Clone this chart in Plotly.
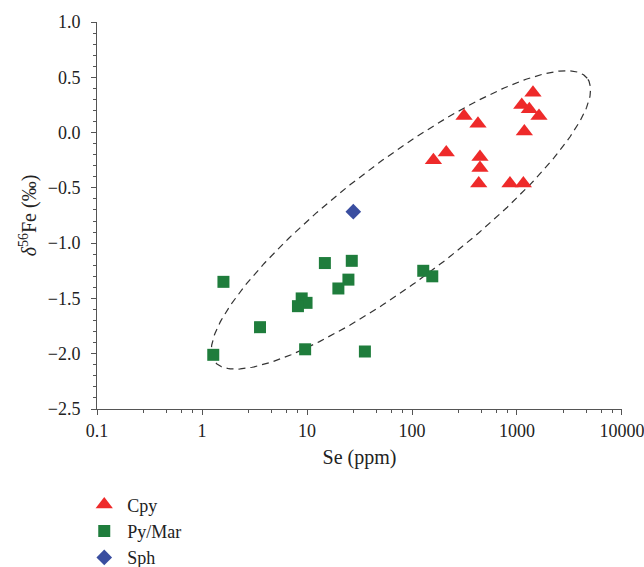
import numpy as np
import plotly.graph_objects as go

# --- data ---
cpy_se = [1420, 1110, 1310, 1620, 1175, 313, 425, 212, 160, 444, 444, 432, 857, 1150]
cpy_fe = [0.36, 0.25, 0.21, 0.15, 0.01, 0.15, 0.08, -0.18, -0.25, -0.22, -0.32, -0.46, -0.46, -0.46]

pym_se = [1.60, 14.8, 26.7, 24.8, 19.9, 8.9, 9.9, 8.2, 3.57, 1.28, 9.6, 35.6, 128, 156]
pym_fe = [-1.35, -1.18, -1.16, -1.33, -1.41, -1.50, -1.54, -1.57, -1.76, -2.01, -1.96, -1.98, -1.25, -1.30]

sph_se = [27.6]
sph_fe = [-0.715]

x_tickvals = [0.1, 1, 10, 100, 1000, 10000]
x_ticktext = ["0.1", "1", "10", "100", "1000", "10000"]
x_minor = [d * m for d in [0.1, 1, 10, 100, 1000] for m in [2.8, 4.6, 6.4, 8.2]]

# ellipse parameters (center in log10(Se) / delta units, semi-axes in screen px, tilt in degrees)
ell_center_logx = 1.895
ell_center_y = -0.79
ell_a_px = 234.0
ell_b_px = 59.0
ell_tilt_deg = 37.25

W, H = 644, 567
ML, MR, MT, MB = 97, 22, 22, 158
xr_log = [-1.0001, 4.0001]
yr = [-2.5, 1.0]

px_per_dec = (W - ML - MR) / (xr_log[1] - xr_log[0])
px_per_unit = (H - MT - MB) / (yr[1] - yr[0])

t = np.linspace(0, 2 * np.pi, 400)
th = np.radians(ell_tilt_deg)
u = ell_a_px * np.cos(t) * np.cos(th) - ell_b_px * np.sin(t) * np.sin(th)
v = ell_a_px * np.cos(t) * np.sin(th) + ell_b_px * np.sin(t) * np.cos(th)
ell_x = 10 ** (ell_center_logx + u / px_per_dec)
ell_y = ell_center_y + v / px_per_unit

fig = go.Figure()
fig.add_trace(go.Scatter(x=ell_x, y=ell_y, mode="lines", showlegend=False, hoverinfo="skip",
                         line=dict(color="#333333", width=1.2, dash="7px,5px")))
fig.add_trace(go.Scatter(x=cpy_se, y=cpy_fe, mode="markers", name="Cpy",
                         marker=dict(symbol="triangle-up", size=15, color="#EE2A2A")))
fig.add_trace(go.Scatter(x=pym_se, y=pym_fe, mode="markers", name="Py/Mar",
                         marker=dict(symbol="square", size=12, color="#1F7D3C")))
fig.add_trace(go.Scatter(x=sph_se, y=sph_fe, mode="markers", name="Sph",
                         marker=dict(symbol="diamond", size=12, color="#3A4EA0")))

font_family = "Liberation Serif, Times New Roman, serif"
fig.update_layout(
    width=W, height=H,
    margin=dict(l=ML, r=MR, t=MT, b=MB, autoexpand=False),
    paper_bgcolor="white", plot_bgcolor="white",
    font=dict(family=font_family, size=18, color="#222222"),
    legend=dict(x=-0.030, y=-0.200, xanchor="left", yanchor="top", itemwidth=36,
                font=dict(size=18), bgcolor="rgba(0,0,0,0)"),
    xaxis=dict(type="log", range=xr_log, showgrid=False, zeroline=False,
               showline=True, linecolor="#555555", linewidth=1,
               ticks="outside", ticklen=5, tickcolor="#555555",
               tickvals=x_tickvals, ticktext=x_ticktext, ticklabeloverflow="allow",
               minor=dict(tickvals=x_minor, ticks="outside", ticklen=3, tickcolor="#555555"),
               title=dict(text="Se (ppm)", font=dict(size=20), standoff=10)),
    yaxis=dict(range=yr, showgrid=False, zeroline=False,
               showline=True, linecolor="#555555", linewidth=1,
               ticks="outside", ticklen=5, tickcolor="#555555",
               tickmode="linear", tick0=-2.5, dtick=0.5, tickformat=".1f",
               ticklabelstandoff=7,
               minor=dict(dtick=0.1, ticks="outside", ticklen=3, tickcolor="#555555"),
               title=dict(text="<i>δ</i><sup>56</sup>Fe (‰)", font=dict(size=20), standoff=5)),
)

fig.write_html("out.html")
